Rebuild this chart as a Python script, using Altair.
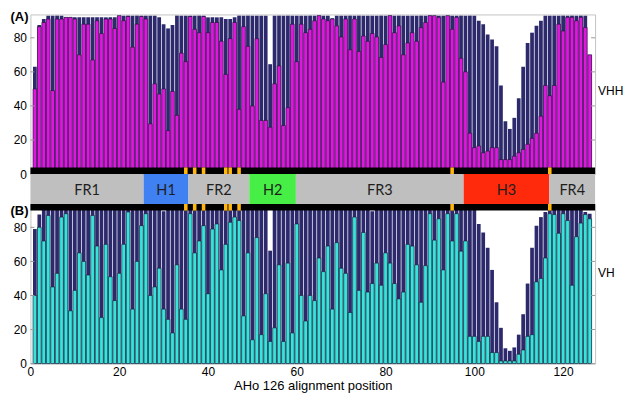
import altair as alt
import pandas as pd

positions = list(range(1, 127))

vhh_conserved = [
    50, 86.5, 89, 91, 49, 91, 91, 92, 92, 91,
    70, 88, 88, 67, 90, 82.5, 91, 91, 85.5, 93,
    90, 92.5, 74.5, 88, 92.5, 91, 29.5, 53, 47, 50,
    25.5, 48.5, 34.5, 71, 66, 92.5, 85, 83, 92.5, 83,
    89, 89, 78, 58.5, 79.5, 89, 38, 86.5, 75, 40,
    79.5, 31.5, 31.5, 27.5, 53, 63.5, 28.5, 39, 88, 66,
    88, 83, 85, 90, 93, 91, 90, 91, 87, 80.5,
    91, 73, 91, 72, 81, 78, 82.5, 80.5, 68.5, 76,
    93, 83, 87, 70, 77, 83, 78, 86, 89, 93,
    93, 92, 54, 93, 85, 92, 68, 60, 24, 15.5,
    16.5, 12.5, 13.5, 15.5, 15.5, 8.5, 8.5, 8.5, 10.5, 12.5,
    14.5, 17.5, 21, 24, 34, 52, 46, 52, 88, 84,
    92, 92, 90, 92, 86, 70,
]
vhh_total = [
    63, 87.5, 91, 93, 93, 93, 93, 92, 92, 92,
    92, 92, 92, 92, 92, 92, 92, 92, 92, 93,
    93, 93, 93, 93, 93, 93, 93, 93, 92, 88,
    85.5, 87.5, 93, 93, 93, 93, 93, 93, 93, 92,
    92, 92, 92, 91, 91, 92, 93, 93, 93, 93,
    93, 93, 93, 64.5, 93, 93, 93, 93, 93, 93,
    93, 93, 93, 93, 93, 93, 93, 91.5, 93, 93,
    93, 93, 93, 93, 93, 93, 93, 93, 93, 93,
    93, 93, 93, 93, 93, 93, 93, 93, 93, 93,
    93, 93, 93, 93, 93, 93, 93, 93, 93, 93,
    90, 88, 82, 79, 75, 52, 31, 26.5, 33, 44.5,
    63, 77, 83, 87, 90, 93, 93, 93, 93, 93,
    93, 93, 93, 93, 93, 70,
]
vh_conserved = [
    40, 80, 72, 87, 45, 53, 86, 88, 31, 43,
    65, 60, 52, 87, 69, 27, 70, 51, 37, 53,
    70, 89, 32, 60, 81, 88, 40, 45, 56, 32,
    26, 18, 58, 32, 26, 88, 65, 72, 81, 41,
    79, 82, 55, 70, 83, 86, 84, 28, 65, 14,
    74, 17, 41, 13, 21, 58, 13, 59, 18, 82,
    40, 25, 40, 37, 62, 54, 69, 32, 71, 56,
    53, 30, 86, 43, 77, 42, 47, 59, 46, 65,
    59, 47, 38, 42, 70, 69, 58, 36, 57.5, 88,
    72.5, 85, 55, 88, 72, 88, 66, 72, 16, 16,
    13, 16, 16, 6.5, 6.5, 1.6, 1.6, 1.6, 1.6, 5.5,
    8, 16, 17, 48, 50, 62, 88, 87.5, 76.5, 88,
    84, 46, 74.5, 82.5, 87.5, 85,
]
vh_total = [
    79, 87.5, 90.5, 90.5, 90.5, 90.5, 90.5, 90.5, 90.5, 90.5,
    90.5, 90.5, 90.5, 90.5, 90.5, 90.5, 90.5, 90.5, 90.5, 90.5,
    90.5, 90.5, 90.5, 90.5, 90.5, 90.5, 90.5, 90.5, 90.5, 89.5,
    90.5, 90.5, 90.5, 90.5, 90.5, 90.5, 90.5, 90.5, 90.5, 90.5,
    90.5, 90.5, 90.5, 90.5, 90.5, 90.5, 90.5, 90.5, 90.5, 90.5,
    90.5, 90.5, 90.5, 66.3, 90.5, 90.5, 90.5, 90.5, 90.5, 90.5,
    90.5, 90.5, 90.5, 90.5, 90.5, 90.5, 90.5, 90.5, 90.5, 90.5,
    90.5, 90.5, 90.5, 90.5, 90.5, 90.5, 89.5, 90.5, 90.5, 90.5,
    90.5, 90.5, 90.5, 90.5, 90.5, 90.5, 90.5, 90.5, 90.5, 90.5,
    90.5, 90.5, 90.5, 90.5, 90.5, 90.5, 90.5, 90.5, 90.5, 90.5,
    82, 77, 68, 55, 36, 21, 9, 7.5, 9.5, 17,
    29, 47, 68, 81, 86, 89, 90.5, 90.5, 90.5, 90.5,
    90.5, 90.5, 90.5, 90.5, 89, 88,
]

region_names = ["FR1", "H1", "FR2", "H2", "FR3", "H3", "FR4"]
region_start = [0, 25.5, 35.6, 49.3, 59.8, 97.6, 116.9]
region_end = [25.5, 35.6, 49.3, 59.8, 97.6, 116.9, 127.2]
region_colors = ["#bfbfbf", "#3f80f2", "#bfbfbf", "#46ee46", "#bfbfbf", "#ff2a0c", "#bfbfbf"]
marker_positions = [35, 37, 39, 44, 45, 47, 95, 117]
y_ticks = [0, 20, 40, 60, 80]
x_ticks = [0, 20, 40, 60, 80, 100, 120]

W, H, BAND = 566, 160, 30
XMAX, YMAX = 127.2, 93.7
STRIP = 6.6
MAGENTA, NAVY, CYAN, ORANGE = "#e016e0", "#2c2a6c", "#36e4dc", "#ffb70f"
FONT = "Liberation Sans"

df = pd.DataFrame({
    "pos": positions,
    "a_lo": vhh_conserved, "a_hi": vhh_total,
    "b_lo": vh_conserved, "b_hi": vh_total,
})
regions = pd.DataFrame({"name": region_names, "start": region_start, "end": region_end})
markers = pd.DataFrame({"pos": marker_positions})
yt = pd.DataFrame({"t": y_ticks})
one = pd.DataFrame({"k": [0]})

xscale = alt.Scale(domain=[0, XMAX], nice=False, zero=False)
yscale = alt.Scale(domain=[0, YMAX], nice=False, zero=False)

yaxis = alt.Axis(values=y_ticks, labelFont=FONT, labelFontSize=12, labelColor="black",
                 domain=False, ticks=False, grid=False, labelPadding=4,
                 labelFlush=False, title=None)
xaxis = alt.Axis(values=x_ticks, labelFont=FONT, labelFontSize=12, labelColor="black",
                 domain=False, ticks=False, grid=False, labelPadding=3, labelFlush=False,
                 title="AHo 126 alignment position", titleFont=FONT, titleFontSize=13,
                 titleFontWeight="normal", titleColor="black", titlePadding=2)


def panel(lo, hi, fg, tag, side, side_y, strip_top, with_xaxis):
    xa = xaxis if with_xaxis else None
    base = alt.Chart(df).transform_calculate(x0="datum.pos - 0.42", x1="datum.pos + 0.42")
    back = base.mark_rect(color=NAVY).encode(
        x=alt.X("x0:Q", scale=xscale, axis=xa),
        x2="x1:Q",
        y=alt.Y(f"{hi}:Q", scale=yscale, axis=yaxis),
        y2=alt.datum(0),
    )
    front = base.mark_rect(color=fg, stroke="#16122e", strokeWidth=0.6).encode(
        x=alt.X("x0:Q", scale=xscale, axis=xa),
        x2="x1:Q",
        y=alt.Y(f"{lo}:Q", scale=yscale, axis=yaxis),
        y2=alt.datum(0),
    )
    tl = alt.Chart(yt).mark_rule(color="#9a9a9a", strokeWidth=1).encode(
        y=alt.Y("t:Q", scale=yscale, axis=yaxis), x=alt.value(0), x2=alt.value(4))
    tr = alt.Chart(yt).mark_rule(color="#9a9a9a", strokeWidth=1).encode(
        y=alt.Y("t:Q", scale=yscale, axis=yaxis), x=alt.value(W - 4), x2=alt.value(W))
    sy0, sy1 = (0, STRIP) if strip_top else (H - STRIP, H)
    strip = alt.Chart(one).mark_rect(color="black").encode(
        x=alt.value(0), x2=alt.value(W), y=alt.value(sy0), y2=alt.value(sy1))
    mk = alt.Chart(markers).transform_calculate(
        m0="datum.pos - 0.4", m1="datum.pos + 0.4").mark_rect(color=ORANGE).encode(
        x=alt.X("m0:Q", scale=xscale, axis=xa), x2="m1:Q",
        y=alt.value(sy0), y2=alt.value(sy1))
    tagt = alt.Chart(one).mark_text(text=tag, font=FONT, fontSize=13, fontWeight="bold",
                                    align="right", baseline="top", color="black").encode(
        x=alt.value(-2), y=alt.value(-3 if not strip_top else 1))
    sidet = alt.Chart(one).mark_text(text=side, font=FONT, fontSize=12, align="left",
                                     baseline="middle", color="black").encode(
        x=alt.value(W + 3), y=alt.value(side_y))
    return alt.layer(back, front, tl, tr, strip, mk, tagt, sidet).properties(width=W, height=H)


pa = panel("a_lo", "a_hi", MAGENTA, "(A)", "VHH", 77, False, False)
pb = panel("b_lo", "b_hi", CYAN, "(B)", "VH", 69, True, True)

band_rects = alt.Chart(regions).mark_rect().encode(
    x=alt.X("start:Q", scale=xscale, axis=None), x2="end:Q",
    y=alt.value(0), y2=alt.value(BAND),
    color=alt.Color("name:N", scale=alt.Scale(domain=region_names, range=region_colors), legend=None),
)
band_text = alt.Chart(regions).transform_calculate(mid="(datum.start + datum.end) / 2").mark_text(
    font="Lato", fontSize=14.5, color="#1e1e1e", baseline="middle").encode(
    x=alt.X("mid:Q", scale=xscale, axis=None), y=alt.value(BAND / 2 + 1.5), text="name:N")
band = alt.layer(band_rects, band_text).properties(width=W, height=BAND,
                                                   view=alt.ViewBackground(stroke=None))

chart = alt.vconcat(pa, band, pb, spacing=0, bounds="flush").properties(
    padding={"left": 1.5, "top": 2, "right": 0, "bottom": 0}
).configure_view(stroke="#c4c4c4").configure_concat(spacing=0)

chart.save("out.html", embed_options={"renderer": "svg", "actions": False})
